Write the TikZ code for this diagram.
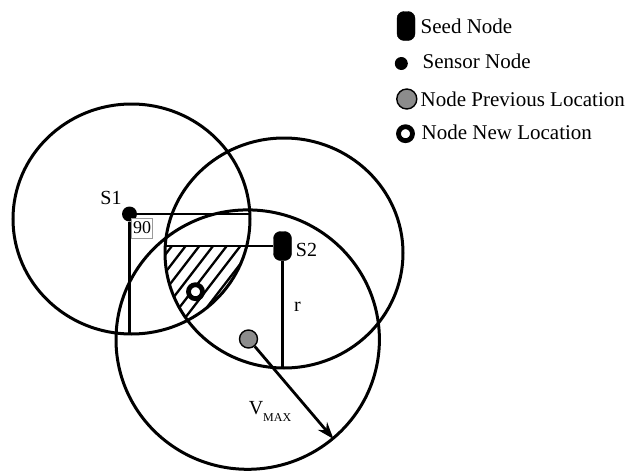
\documentclass[tikz,border=0pt]{standalone}
\usepackage{fontspec}
\setmainfont{Liberation Serif}
\usetikzlibrary{positioning, arrows.meta}
\usepackage{xcolor}
\definecolor{prevfill}{HTML}{8c8c8c}
\definecolor{boxline}{HTML}{9a9a9a}

\begin{document}
\begin{tikzpicture}[x=1pt, y=-1pt,
    ring/.style={line width=3pt},
    line/.style={line width=2.8pt},
    hatch/.style={line width=2.3pt},
    seednode/.style={draw, fill=black, rounded corners=7pt, minimum width=18pt, minimum height=29pt, inner sep=0pt},
    sensornode/.style={circle, fill=black, minimum size=15pt, inner sep=0pt},
    prevloc/.style={circle, draw, line width=1.4pt, fill=prevfill, minimum size=18pt, inner sep=0pt},
    newloc/.style={circle, draw, line width=4.8pt, fill=white, minimum size=14pt, inner sep=0pt},
    anglebox/.style={draw=boxline, line width=0.7pt, fill=white, inner xsep=1.5pt, minimum height=20pt, font=\fontsize{18}{20}\selectfont},
    lbl/.style={font=\fontsize{20}{24}\selectfont, inner sep=0pt},
    legend/.style={font=\fontsize{21}{25}\selectfont, inner sep=0pt, anchor=west},
]
\useasboundingbox (0,0) rectangle (630,471);

% Ranges of the two nodes and of the moving node
\coordinate (c1) at (131.5,219);
\coordinate (c2) at (284,253);
\coordinate (c3) at (247.7,339.6);
\draw[ring] (c1) ellipse [x radius=118.5pt, y radius=115pt];
\draw[ring] (c2) ellipse [x radius=119pt, y radius=115pt];
\draw[ring] (c3) ellipse [x radius=131.7pt, y radius=129.7pt];

% Hatched area: inside both ranges, below the line of S2
\begin{scope}
  \clip (c1) ellipse [x radius=118.5pt, y radius=115pt];
  \clip (c2) ellipse [x radius=119pt, y radius=115pt];
  \clip (150,246) rectangle (260,340);
  \foreach \i in {0,...,11}
    \draw[hatch] (95+\i*13.7, 346) -- ++(90,-117);
\end{scope}

% Nodes in the field
\node[sensornode] (s1) at (129.5,214) {};
\node[seednode] (s2) at (282.5,246) {};
\node[prevloc] (prev) at (248.5,339) {};
\node[newloc] (new) at (195.5,291.7) {};

\coordinate (s1r) at (250,214);
\coordinate (s1b) at (129.5,334);
\coordinate (s2l) at (166,246);
\coordinate (s2b) at (282.5,368);
\coordinate (vtip) at (333.5,439);

\draw[line] (s1) -- (s1r);
\draw[line] (s1) -- (s1b);
\draw[line] (s2) -- (s2l);
\draw[line] (s2) -- (s2b);
\draw[line, -{Stealth[length=17pt, width=12pt]}] (prev) -- (vtip);

\node[anglebox] (ang) at (142,228) {90};

% Labels
\node[lbl] (s1lbl) at (111,198) {S1};
\node[lbl] (s2lbl) at (306.5,249.5) {S2};
\node[lbl, anchor=base] (rlbl) at (297.5,311.7) {r};
\node[lbl] (vmax) at (270,411) {V\raisebox{-7pt}{\fontsize{12}{14}\selectfont MAX}};

% Legend
\node[seednode] (lseed) at (406,26) {};
\node[sensornode, minimum size=13pt] (lsensor) at (401.3,63.5) {};
\node[prevloc, minimum size=20pt] (lprev) at (406.8,99) {};
\node[newloc] (lnew) at (405.5,133.7) {};

\node[legend] (tseed) at (420.5,26) {Seed Node};
\node[legend] (tsensor) at (422.5,61.3) {Sensor Node};
\node[legend] (tprev) at (420.5,99) {Node Previous Location};
\node[legend] (tnew) at (421.5,132.5) {Node New Location};

\end{tikzpicture}
\end{document}
